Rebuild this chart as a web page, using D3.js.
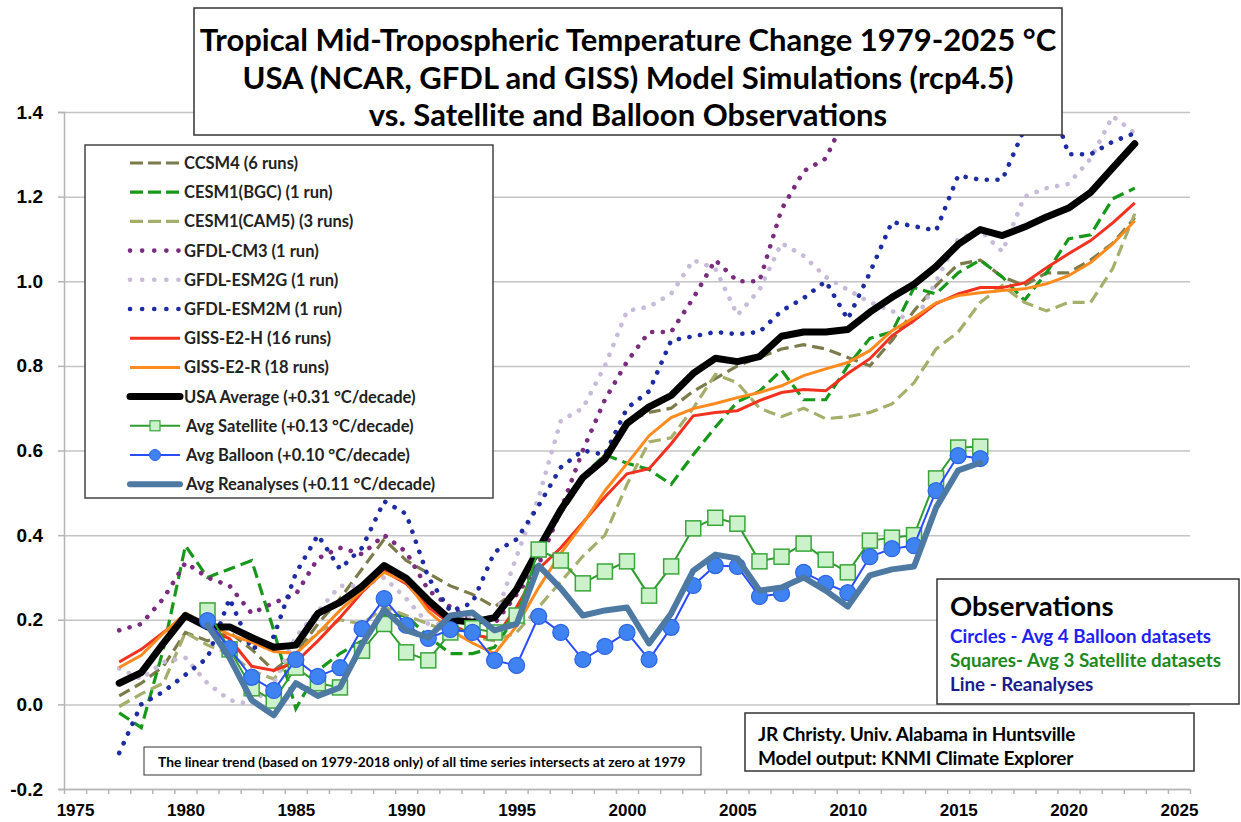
<!DOCTYPE html>
<html>
<head>
<meta charset="utf-8">
<script src="https://cdn.jsdelivr.net/npm/d3@7"></script>
<style>
  body { margin: 0; background: #fff; }
  svg { display: block; }
  .bold { font-family: Lato, "Open Sans", sans-serif; font-weight: 700; }
</style>
</head>
<body>
<div id="chart"></div>
<script>
// categories
const years = [1977, 1978, 1979, 1980, 1981, 1982, 1983, 1984, 1985, 1986, 1987, 1988, 1989, 1990,
    1991, 1992, 1993, 1994, 1995, 1996, 1997, 1998, 1999, 2000, 2001, 2002, 2003, 2004, 2005, 2006,
    2007, 2008, 2009, 2010, 2011, 2012, 2013, 2014, 2015, 2016, 2017, 2018, 2019, 2020, 2021, 2022, 2023];
const obsYears = [1981, 1982, 1983, 1984, 1985, 1986, 1987, 1988, 1989, 1990, 1991, 1992, 1993, 1994,
    1995, 1996, 1997, 1998, 1999, 2000, 2001, 2002, 2003, 2004, 2005, 2006, 2007, 2008, 2009, 2010,
    2011, 2012, 2013, 2014, 2015, 2016];
const xLabels = [1975, 1980, 1985, 1990, 1995, 2000, 2005, 2010, 2015, 2020, 2025];
const yLabels = [-0.2, 0.0, 0.2, 0.4, 0.6, 0.8, 1.0, 1.2, 1.4];

// model series (deg C), 1977-2023
const ccsm4 = [0.02, 0.05, 0.09, 0.17, 0.15, 0.17, 0.13, 0.08, 0.12, 0.19, 0.25, 0.32, 0.39, 0.34,
    0.31, 0.28, 0.26, 0.23, 0.27, 0.36, 0.45, 0.53, 0.59, 0.67, 0.69, 0.70, 0.74, 0.77, 0.80, 0.82,
    0.84, 0.85, 0.84, 0.82, 0.80, 0.86, 0.93, 0.99, 1.04, 1.05, 1.01, 0.99, 1.02, 1.02, 1.05, 1.09, 1.15];
const cesmBgc = [-0.02, -0.055, 0.13, 0.375, 0.30, 0.32, 0.34, 0.175, -0.01, 0.08, 0.12, 0.15, 0.21, 0.21,
    0.16, 0.12, 0.12, 0.135, 0.21, 0.35, 0.46, 0.54, 0.59, 0.57, 0.555, 0.52, 0.59, 0.655, 0.715, 0.74,
    0.79, 0.72, 0.72, 0.80, 0.865, 0.88, 0.985, 0.97, 1.02, 1.05, 1.01, 0.955, 1.02, 1.10, 1.11, 1.195, 1.22];
const cesmCam5 = [-0.005, 0.025, 0.05, 0.17, 0.14, 0.12, 0.08, 0.06, 0.12, 0.17, 0.20, 0.19, 0.23, 0.21,
    0.19, 0.17, 0.16, 0.15, 0.17, 0.23, 0.29, 0.35, 0.40, 0.52, 0.62, 0.63, 0.70, 0.78, 0.76, 0.70,
    0.68, 0.70, 0.675, 0.68, 0.69, 0.71, 0.76, 0.84, 0.88, 0.95, 0.99, 0.95, 0.93, 0.95, 0.95, 1.03, 1.16];
const gfdlCm3 = [0.175, 0.19, 0.25, 0.335, 0.30, 0.28, 0.215, 0.24, 0.26, 0.345, 0.37, 0.355, 0.40, 0.36,
    0.27, 0.23, 0.20, 0.19, 0.26, 0.33, 0.46, 0.60, 0.72, 0.81, 0.88, 0.88, 0.96, 1.05, 1.00, 1.00,
    1.17, 1.26, 1.29, 1.40, 1.48, null, null, null, null, null, null, null, null, null, null, null, null];
const gfdlEsm2g = [0.085, 0.06, 0.10, 0.11, 0.05, 0.01, 0.0, 0.05, 0.16, 0.22, 0.28, 0.28, 0.30, 0.25,
    0.19, 0.19, 0.21, 0.20, 0.35, 0.49, 0.67, 0.70, 0.80, 0.93, 0.94, 0.97, 1.05, 1.03, 0.92, 0.98,
    1.09, 1.06, 1.01, 0.98, 0.95, 0.93, 0.90, 1.00, 1.10, 1.12, 1.07, 1.20, 1.22, 1.23, 1.29, 1.39, 1.35];
const gfdlEsm2m = [-0.115, 0.0, 0.03, 0.07, 0.11, 0.25, 0.13, 0.16, 0.31, 0.40, 0.32, 0.37, 0.48, 0.45,
    0.30, 0.22, 0.24, 0.36, 0.39, 0.47, 0.56, 0.60, 0.59, 0.70, 0.74, 0.86, 0.87, 0.88, 0.875, 0.88,
    0.93, 0.96, 1.00, 0.91, 1.02, 1.14, 1.13, 1.12, 1.25, 1.24, 1.24, 1.36, 1.46, 1.30, 1.30, 1.33, 1.35];
const gissH = [0.10, 0.13, 0.17, 0.21, 0.18, 0.155, 0.09, 0.08, 0.10, 0.15, 0.205, 0.265, 0.315, 0.285,
    0.23, 0.19, 0.165, 0.155, 0.23, 0.32, 0.37, 0.43, 0.49, 0.545, 0.557, 0.616, 0.682, 0.69, 0.694, 0.718,
    0.737, 0.744, 0.741, 0.782, 0.817, 0.871, 0.907, 0.947, 0.97, 0.985, 0.985, 0.996, 1.032, 1.065, 1.096, 1.138, 1.185];
const gissR = [0.087, 0.116, 0.168, 0.215, 0.19, 0.165, 0.147, 0.125, 0.12, 0.168, 0.222, 0.269, 0.312, 0.29,
    0.22, 0.175, 0.145, 0.12, 0.185, 0.276, 0.357, 0.427, 0.505, 0.569, 0.635, 0.678, 0.699, 0.711, 0.725, 0.737,
    0.753, 0.777, 0.793, 0.808, 0.836, 0.883, 0.914, 0.949, 0.966, 0.973, 0.978, 0.982, 0.994, 1.013, 1.044, 1.088, 1.143];
const usaAvg = [0.05, 0.075, 0.144, 0.21, 0.183, 0.183, 0.158, 0.135, 0.14, 0.215, 0.241, 0.279, 0.328, 0.298,
    0.246, 0.20, 0.194, 0.205, 0.272, 0.368, 0.46, 0.536, 0.58, 0.664, 0.703, 0.73, 0.782, 0.818, 0.81, 0.822,
    0.87, 0.88, 0.88, 0.886, 0.927, 0.962, 0.993, 1.035, 1.087, 1.122, 1.108, 1.128, 1.152, 1.173, 1.21, 1.268, 1.325];

// observations, 1981-2016
const satellite = [0.222, 0.13, 0.038, 0.009, 0.087, 0.05, 0.04, 0.127, 0.19, 0.123, 0.104, 0.17, 0.18, 0.17,
    0.21, 0.366, 0.34, 0.286, 0.314, 0.338, 0.257, 0.326, 0.416, 0.441, 0.427, 0.338, 0.349, 0.38, 0.342, 0.312,
    0.387, 0.394, 0.40, 0.534, 0.607, 0.609];
const balloon = [0.198, 0.132, 0.064, 0.033, 0.106, 0.066, 0.087, 0.179, 0.25, 0.187, 0.156, 0.177, 0.17, 0.104,
    0.092, 0.208, 0.17, 0.106, 0.137, 0.17, 0.106, 0.182, 0.281, 0.328, 0.326, 0.255, 0.262, 0.312, 0.286, 0.264,
    0.349, 0.368, 0.375, 0.505, 0.588, 0.581];
const reanalyses = [0.187, 0.11, 0.01, -0.026, 0.05, 0.02, 0.04, 0.142, 0.224, 0.175, 0.158, 0.21, 0.217, 0.175,
    0.19, 0.328, 0.274, 0.21, 0.222, 0.229, 0.144, 0.215, 0.316, 0.354, 0.345, 0.269, 0.276, 0.30, 0.269, 0.231,
    0.305, 0.319, 0.326, 0.465, 0.553, 0.571];

const series = [
    { name: "CCSM4 (6 runs)", years: years, values: ccsm4, color: "#7b7b4c", style: "dash" },
    { name: "CESM1(BGC) (1 run)", years: years, values: cesmBgc, color: "#18981a", style: "dash" },
    { name: "CESM1(CAM5) (3 runs)", years: years, values: cesmCam5, color: "#a6ae6b", style: "dash" },
    { name: "GFDL-CM3 (1 run)", years: years, values: gfdlCm3, color: "#7a2c7e", style: "dot" },
    { name: "GFDL-ESM2G (1 run)", years: years, values: gfdlEsm2g, color: "#c8bbd9", style: "dot" },
    { name: "GFDL-ESM2M (1 run)", years: years, values: gfdlEsm2m, color: "#1d2ca3", style: "dot" },
    { name: "GISS-E2-H (16 runs)", years: years, values: gissH, color: "#f2311f", style: "solid" },
    { name: "GISS-E2-R (18 runs)", years: years, values: gissR, color: "#ff8a1e", style: "solid" },
    { name: "USA Average (+0.31 °C/decade)", years: years, values: usaAvg, color: "#000", style: "thick" },
    { name: "Avg Satellite (+0.13 °C/decade)", years: obsYears, values: satellite, color: "#2e9e2e", style: "square" },
    { name: "Avg Balloon (+0.10 °C/decade)", years: obsYears, values: balloon, color: "#2a4cff", style: "circle" },
    { name: "Avg Reanalyses (+0.11 °C/decade)", years: obsYears, values: reanalyses, color: "#4d79a3", style: "reanal" }
];

const width = 1241;
const height = 822;
const plotLeft = 64, plotRight = 1190, plotTop = 112, plotBottom = 789;

const svg = d3.select("#chart")
    .append("svg")
    .attr("width", width)
    .attr("height", height);

svg.append("rect").attr("width", width).attr("height", height).attr("fill", "#fff");

const x = d3.scaleLinear().domain([1974.5, 2025.5]).range([plotLeft, plotRight]);
const y = d3.scaleLinear().domain([-0.2, 1.4]).range([plotBottom, plotTop]);

// gridlines
svg.append("g")
    .attr("transform", `translate(${plotLeft},0)`)
    .call(d3.axisLeft(y).tickValues(yLabels).tickSize(-(plotRight - plotLeft)).tickFormat(""))
    .call(g => g.select(".domain").remove())
    .call(g => g.selectAll("line").attr("stroke", "#c4c4c4").attr("stroke-width", 1.5));

// y axis
svg.append("g")
    .attr("transform", `translate(${plotLeft},0)`)
    .call(d3.axisLeft(y).tickValues(yLabels).tickSize(6).tickPadding(15).tickFormat(d => d.toFixed(1)))
    .call(g => g.select(".domain").attr("stroke", "#b5b5b5").attr("stroke-width", 1.5))
    .call(g => g.selectAll("line").attr("stroke", "#b5b5b5").attr("stroke-width", 1.5))
    .call(g => g.selectAll("text")
        .attr("font-family", "'Liberation Sans', Arial, sans-serif")
        .attr("font-weight", 700)
        .attr("font-size", 19)
        .attr("fill", "#000"));

// x axis: ticks between the yearly categories, labels every five years
const yearEdges = d3.range(1974.5, 2026, 1);
svg.append("g")
    .attr("transform", `translate(0,${plotBottom})`)
    .call(d3.axisBottom(x).tickValues(yearEdges).tickSize(5).tickSizeOuter(0).tickFormat(""))
    .call(g => g.select(".domain").attr("stroke", "#b5b5b5").attr("stroke-width", 1.5))
    .call(g => g.selectAll("line").attr("stroke", "#b5b5b5").attr("stroke-width", 1.5));

svg.append("g")
    .attr("transform", `translate(0,${plotBottom})`)
    .call(d3.axisBottom(x).tickValues(xLabels).tickSize(0).tickPadding(15).tickFormat(d3.format("d")))
    .call(g => g.select(".domain").remove())
    .call(g => g.selectAll("text")
        .attr("font-family", "'Liberation Sans', Arial, sans-serif")
        .attr("font-weight", 700)
        .attr("font-size", 17)
        .attr("fill", "#000"));

// plot area clip
svg.append("clipPath").attr("id", "plot")
    .append("rect").attr("x", plotLeft).attr("y", plotTop)
    .attr("width", plotRight - plotLeft).attr("height", plotBottom - plotTop);

const plot = svg.append("g").attr("clip-path", "url(#plot)");

const line = d3.line()
    .defined(d => d[1] != null)
    .x(d => x(d[0]))
    .y(d => y(d[1]));

function styleLine(sel, s, legend) {
    sel.attr("fill", "none").attr("stroke", s.color);
    if (s.style === "dash") {
        sel.attr("stroke-width", 3.2).attr("stroke-dasharray", legend ? "13 5" : "12 6");
    } else if (s.style === "dot") {
        sel.attr("stroke-width", 4.6).attr("stroke-linecap", "round")
            .attr("stroke-dasharray", legend ? "0.1 12" : "0.1 10.6");
    } else if (s.style === "solid") {
        sel.attr("stroke-width", 3);
    } else if (s.style === "thick") {
        sel.attr("stroke-width", 7).attr("stroke-linejoin", "round").attr("stroke-linecap", "round");
    } else if (s.style === "reanal") {
        sel.attr("stroke-width", 6).attr("stroke-linejoin", "round").attr("stroke-linecap", "round");
    } else {
        sel.attr("stroke-width", 2);
    }
    return sel;
}

series.forEach(s => {
    const pts = s.years.map((yr, i) => [yr, s.values[i]]);
    plot.append("path")
        .datum(pts)
        .attr("d", line)
        .call(sel => styleLine(sel, s, false));

    if (s.style === "square") {
        plot.selectAll(null)
            .data(pts)
            .enter()
            .append("rect")
            .attr("x", d => x(d[0]) - 7.5)
            .attr("y", d => y(d[1]) - 7.5)
            .attr("width", 15)
            .attr("height", 15)
            .attr("fill", "#ccf2cc")
            .attr("stroke", "#3aa63a")
            .attr("stroke-width", 1.5);
    }
    if (s.style === "circle") {
        plot.selectAll(null)
            .data(pts)
            .enter()
            .append("circle")
            .attr("cx", d => x(d[0]))
            .attr("cy", d => y(d[1]))
            .attr("r", 8)
            .attr("fill", "#3f82f2")
            .attr("stroke", "#2c64e2")
            .attr("stroke-width", 1.2);
    }
});

// title box
svg.append("rect")
    .attr("x", 194).attr("y", 8).attr("width", 868).attr("height", 127)
    .attr("fill", "#fff").attr("stroke", "#333").attr("stroke-width", 1.5);

const titleLines = [
    "Tropical Mid-Tropospheric Temperature Change 1979-2025 °C",
    "USA (NCAR, GFDL and GISS) Model Simulations (rcp4.5)",
    "vs. Satellite and Balloon Observations"
];
svg.append("g")
    .selectAll("text")
    .data(titleLines)
    .enter()
    .append("text")
    .attr("class", "bold")
    .attr("x", 628)
    .attr("y", (d, i) => 51 + i * 37.5)
    .attr("text-anchor", "middle")
    .attr("font-size", 31)
    .attr("fill", "#000")
    .text(d => d);

// legend
svg.append("rect")
    .attr("x", 85).attr("y", 145).attr("width", 408).attr("height", 353)
    .attr("fill", "#fff").attr("stroke", "#444").attr("stroke-width", 1.5);

const legend = svg.append("g")
    .selectAll("g")
    .data(series)
    .enter()
    .append("g")
    .attr("transform", (d, i) => `translate(0,${163 + i * 29.2})`);

legend.append("line")
    .attr("x1", 130).attr("x2", 180)
    .each(function (d) { styleLine(d3.select(this), d, true); });

legend.filter(d => d.style === "square")
    .append("rect")
    .attr("x", 150).attr("y", -5).attr("width", 10).attr("height", 10)
    .attr("fill", "#ccf2cc").attr("stroke", "#3aa63a").attr("stroke-width", 1.2);

legend.filter(d => d.style === "circle")
    .append("circle")
    .attr("cx", 155).attr("r", 5.5)
    .attr("fill", "#3f82f2").attr("stroke", "#2c64e2");

legend.append("text")
    .attr("class", "bold")
    .attr("x", d => d.style === "square" || d.style === "circle" || d.style === "reanal" ? 186 : 184)
    .attr("y", 6)
    .attr("font-size", 16.5)
    .attr("fill", "#222")
    .text(d => d.name);

// observations box
const obs = svg.append("g");
obs.append("rect")
    .attr("x", 937).attr("y", 579).attr("width", 302).attr("height", 125)
    .attr("fill", "#fff").attr("stroke", "#333").attr("stroke-width", 1.5);
obs.append("text").attr("class", "bold")
    .attr("x", 950).attr("y", 616).attr("font-size", 27.5).attr("fill", "#000")
    .text("Observations");
const obsNotes = [
    { text: "Circles - Avg 4 Balloon datasets", color: "#1f1ff2" },
    { text: "Squares- Avg 3 Satellite datasets", color: "#1a8a1e" },
    { text: "Line - Reanalyses", color: "#1b1b8c" }
];
obs.selectAll(null)
    .data(obsNotes)
    .enter()
    .append("text")
    .attr("class", "bold")
    .attr("x", 950)
    .attr("y", (d, i) => 643 + i * 24)
    .attr("font-size", 18.8)
    .attr("fill", d => d.color)
    .text(d => d.text);

// credits box
svg.append("rect")
    .attr("x", 745).attr("y", 713).attr("width", 449).attr("height", 58)
    .attr("fill", "#fff").attr("stroke", "#333").attr("stroke-width", 1.5);
svg.append("g")
    .selectAll("text")
    .data(["JR Christy. Univ. Alabama in Huntsville", "Model output: KNMI Climate Explorer"])
    .enter()
    .append("text")
    .attr("class", "bold")
    .attr("x", 758)
    .attr("y", (d, i) => 741 + i * 24)
    .attr("font-size", 19)
    .attr("letter-spacing", -0.2)
    .attr("fill", "#000")
    .text(d => d);

// trend note
svg.append("rect")
    .attr("x", 144).attr("y", 747).attr("width", 557).attr("height", 28)
    .attr("fill", "#fff").attr("stroke", "#333").attr("stroke-width", 1);
svg.append("text")
    .attr("class", "bold")
    .attr("x", 158).attr("y", 766.5)
    .attr("font-size", 13.8)
    .attr("fill", "#000")
    .text("The linear trend (based on 1979-2018 only) of all time series intersects at zero at 1979");
</script>
</body>
</html>
